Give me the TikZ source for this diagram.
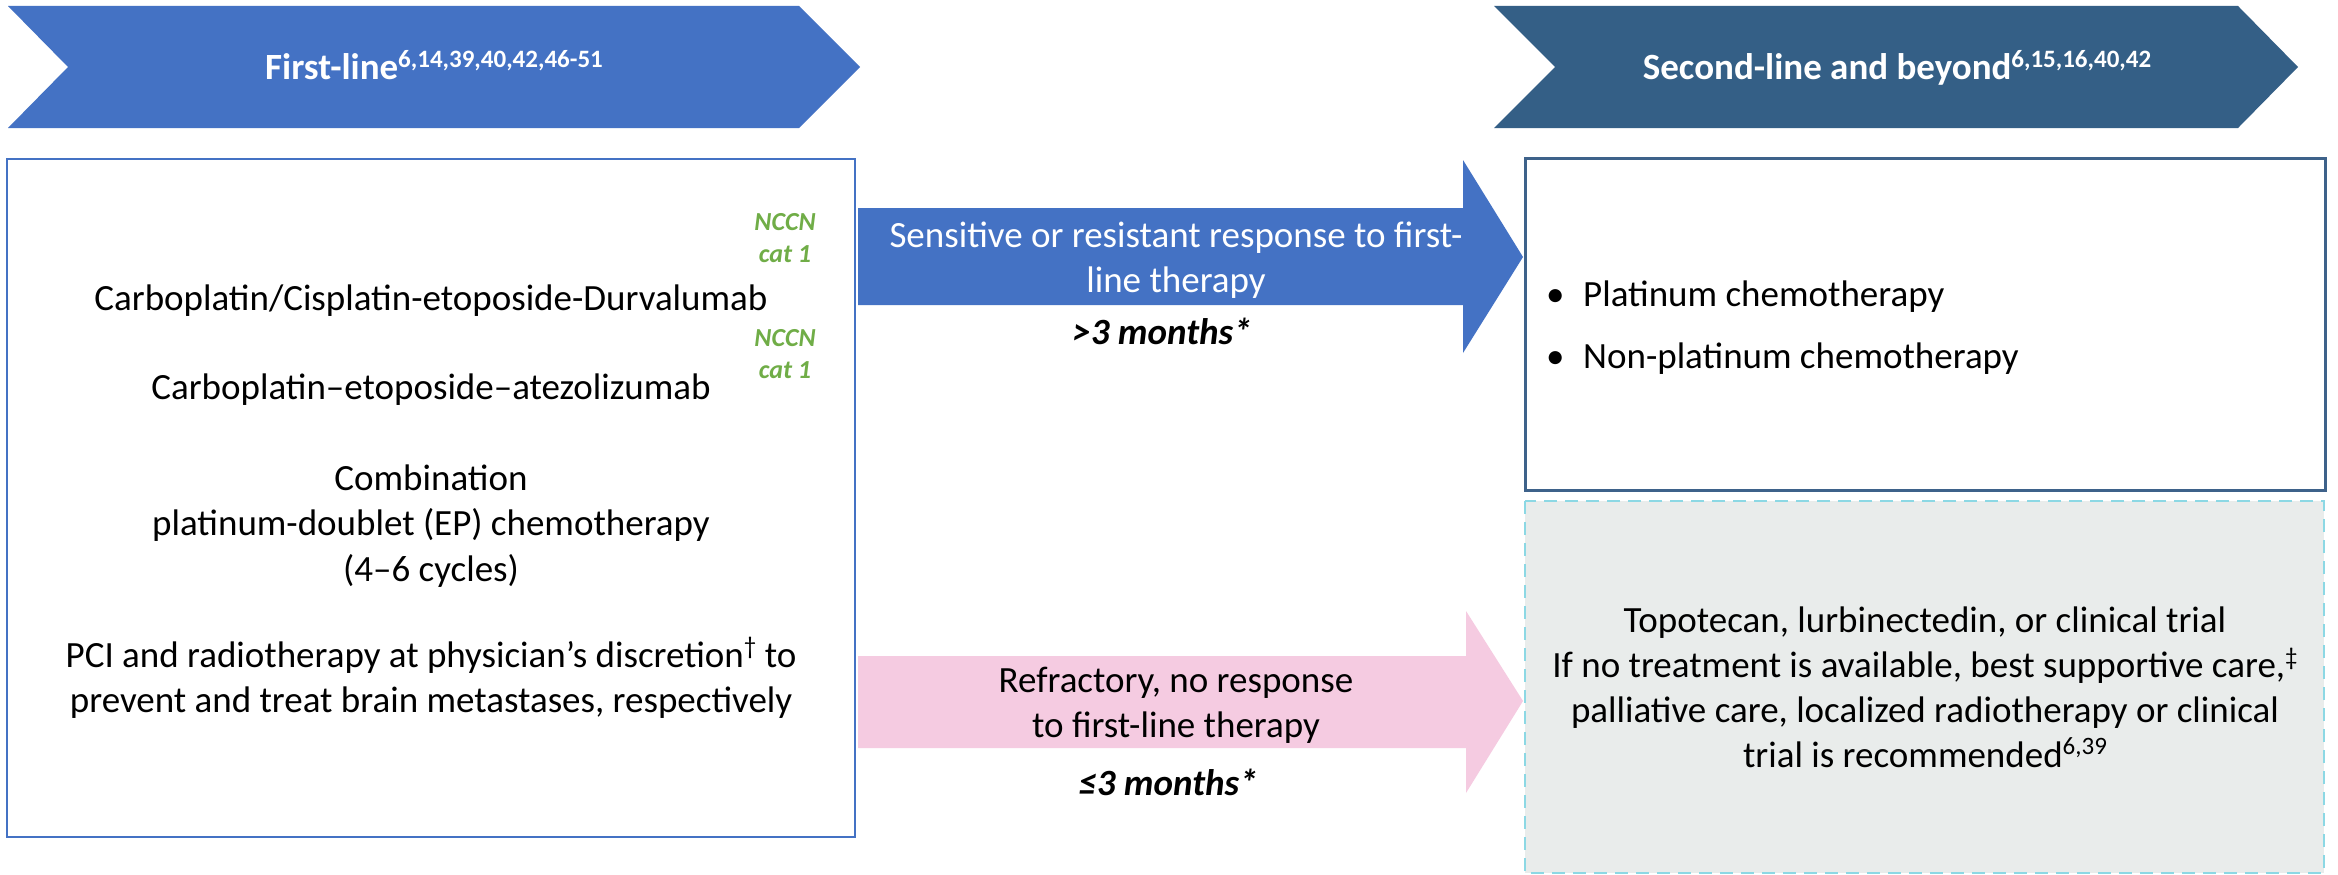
\documentclass[tikz,border=0pt]{standalone}
\usepackage{fontspec}
\setmainfont{Carlito}
\usetikzlibrary{calc}

\definecolor{stepblue}{RGB}{68,114,196}
\definecolor{stepdark}{RGB}{52,95,134}
\definecolor{boxedge}{RGB}{62,98,138}
\definecolor{refpink}{RGB}{245,203,225}
\definecolor{trialgrey}{RGB}{233,236,235}
\definecolor{trialedge}{RGB}{140,216,228}
\definecolor{nccngreen}{RGB}{112,173,71}

% raised reference numbers
\newcommand\refsup[1]{\raisebox{0.33em}{\fontsize{25}{25}\selectfont #1}}

% multi-line nodes are anchored at the baseline of their last line
\tikzset{
  hdrtext/.style={font=\bfseries\fontsize{37}{45}\selectfont, text=white, anchor=base, inner sep=0pt},
  bodytext/.style={font=\fontsize{37}{45}\selectfont, anchor=base, align=center, inner sep=0pt},
  monthtext/.style={font=\bfseries\itshape\fontsize{37}{45}\selectfont, anchor=base, inner sep=0pt},
  nccn/.style={font=\bfseries\itshape\fontsize{26}{32}\selectfont, text=nccngreen, anchor=base, align=center, inner sep=0pt},
  bullettext/.style={font=\fontsize{37}{45}\selectfont, anchor=base west, inner sep=0pt},
}

\begin{document}
\begin{tikzpicture}[x=1pt,y=-1pt]
\useasboundingbox (0,0) rectangle (2338,875);
\fill[white] (0,0) rectangle (2338,875);

% phase chevrons
\fill[stepblue] (8,6) -- (799,6) -- (860,67) -- (799,128) -- (8,128) -- (68,67) -- cycle;
\fill[stepdark] (1494,6) -- (2238,6) -- (2298,67) -- (2238,128) -- (1494,128) -- (1555,67) -- cycle;
\node[hdrtext] (h1) at (434,80) {First-line\refsup{6,14,39,40,42,46-51}};
\node[hdrtext] (h2) at (1897,80) {Second-line and beyond\refsup{6,15,16,40,42}};

% first-line box
\draw[stepblue, line width=2.25pt] (7,159) rectangle (855,837);
\node[nccn] (n1) at (785,262) {NCCN\\cat 1};
\node[nccn] (n2) at (785,378) {NCCN\\cat 1};
\node[bodytext] (t1) at (431,310) {Carboplatin/Cisplatin-etoposide-Durvalumab};
\node[bodytext] (t2) at (431,399) {Carboplatin–etoposide–atezolizumab};
\node[bodytext, font=\fontsize{37}{45.5}\selectfont] (t3) at (431,581) {Combination\\platinum-doublet (EP) chemotherapy\\(4–6 cycles)};
\node[bodytext] (t4) at (431,712) {PCI and radiotherapy at physician’s discretion\refsup{†} to\\prevent and treat brain metastases, respectively};

% response arrows
\fill[stepblue] (858,208) -- (1463,208) -- (1463,160) -- (1523,257) -- (1463,353) -- (1463,305) -- (858,305) -- cycle;
\node[bodytext, text=white] (a1) at (1176,292) {Sensitive or resistant response to first-\\line therapy};
\node[monthtext] (m1) at (1162,344) {>3 months*};

\fill[refpink] (858,656) -- (1466,656) -- (1466,611) -- (1523,701) -- (1466,793) -- (1466,748) -- (858,748) -- cycle;
\node[bodytext] (a2) at (1176,737) {Refractory, no response\\to first-line therapy};
\node[monthtext] (m2) at (1168,795) {≤3 months*};

% second-line boxes
\draw[boxedge, line width=3pt] (1525,158) rectangle (2325,490);
\node[bullettext] (b1) at (1546,306) {\makebox[37pt][l]{•}Platinum chemotherapy};
\node[bullettext] (b2) at (1546,368) {\makebox[37pt][l]{•}Non-platinum chemotherapy};

\draw[trialedge, fill=trialgrey, line width=2pt, dash pattern=on 13pt off 8pt] (1525,501) rectangle (2324,873);
\node[bodytext, font=\fontsize{37}{44.7}\selectfont] (g1) at (1925,767) {Topotecan, lurbinectedin, or clinical trial\\If no treatment is available, best supportive care,\refsup{‡}\\palliative care, localized radiotherapy or clinical\\trial is recommended\refsup{6,39}};
\end{tikzpicture}
\end{document}
